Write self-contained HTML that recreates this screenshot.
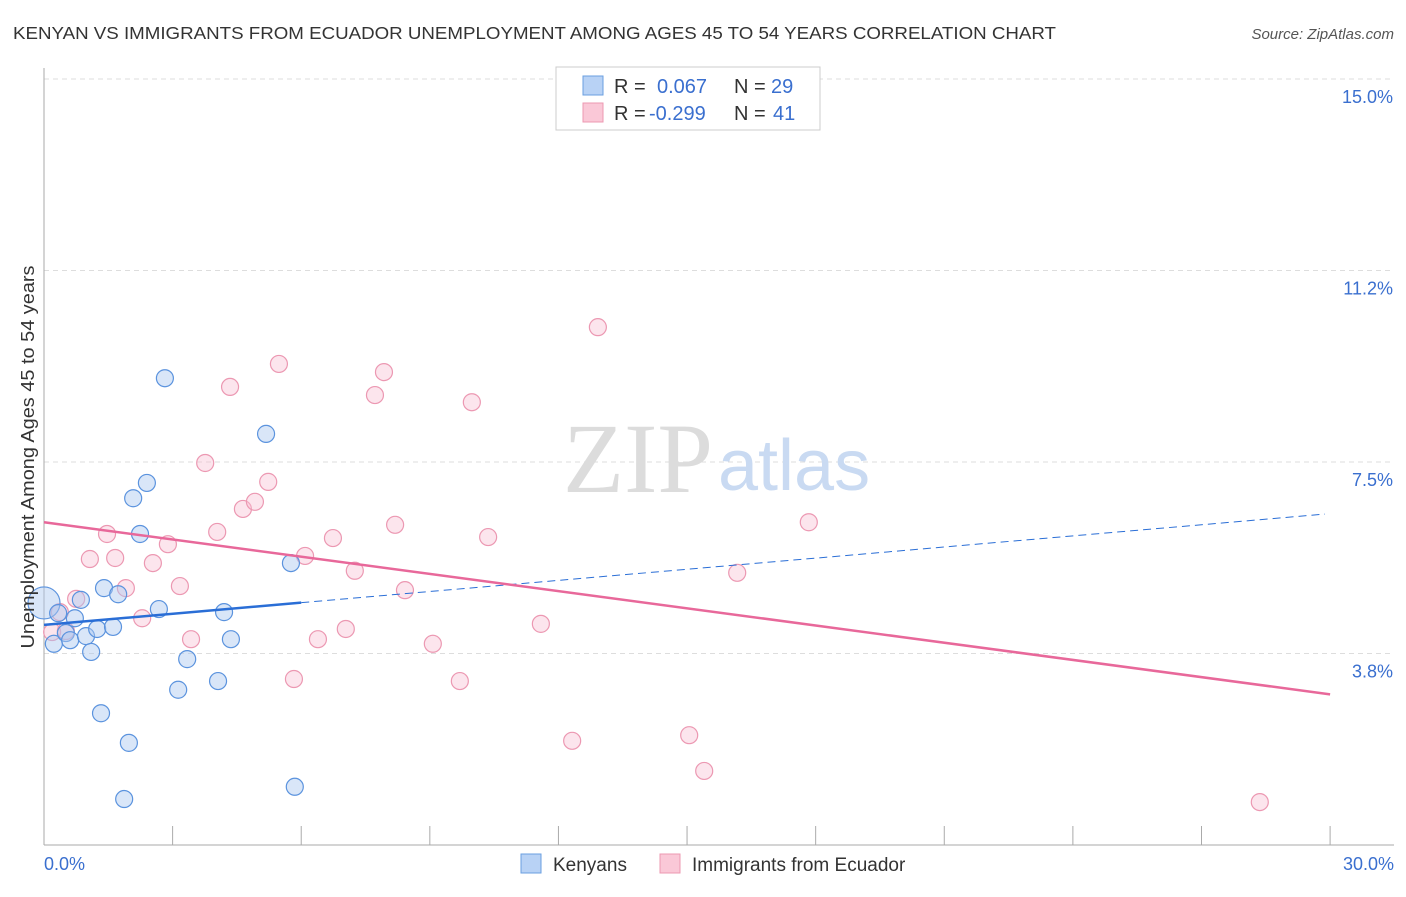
<!DOCTYPE html>
<html><head><meta charset="utf-8">
<style>
body{margin:0;background:#fff;font-family:"Liberation Sans",sans-serif;}
svg text{font-family:"Liberation Sans",sans-serif;}
</style></head>
<body>
<svg id="chart" width="1406" height="892" xmlns="http://www.w3.org/2000/svg">
<text x="13" y="39" font-size="17.5" fill="#333" textLength="1043" lengthAdjust="spacingAndGlyphs">KENYAN VS IMMIGRANTS FROM ECUADOR UNEMPLOYMENT AMONG AGES 45 TO 54 YEARS CORRELATION CHART</text>
<text x="1394" y="39" font-size="15" fill="#555" text-anchor="end" font-style="italic">Source: ZipAtlas.com</text>
<g id="grid"></g>
<text x="713" y="492" font-size="100" text-anchor="end" fill="#dcdcdc" font-family="Liberation Serif" style="font-family:'Liberation Serif',serif">ZIP</text>
<text x="718" y="490" font-size="72" fill="#c9daf2">atlas</text>
<g id="axes"></g>
<g id="points"></g>
<g id="lines"></g>
<g>
<rect x="556" y="67" width="264" height="63" fill="#fff" stroke="#ccc"/>
<rect x="583" y="76" width="20" height="19" fill="#b8d2f5" stroke="#6a9fe0"/>
<rect x="583" y="103" width="20" height="19" fill="#fac8d7" stroke="#ec98b2"/>
<text x="614" y="93" font-size="20" fill="#333">R = </text><text x="657" y="93" font-size="20" fill="#3a6fcf">0.067</text>
<text x="734" y="93" font-size="20" fill="#333">N = </text><text x="771" y="93" font-size="20" fill="#3a6fcf">29</text>
<text x="614" y="120" font-size="20" fill="#333">R = </text><text x="649" y="120" font-size="20" fill="#3a6fcf">-0.299</text>
<text x="734" y="120" font-size="20" fill="#333">N = </text><text x="773" y="120" font-size="20" fill="#3a6fcf">41</text>
</g>
<g>
<rect x="521" y="854" width="20" height="19" fill="#b8d2f5" stroke="#6a9fe0"/>
<text x="553" y="871" font-size="19" fill="#333">Kenyans</text>
<rect x="660" y="854" width="20" height="19" fill="#fac8d7" stroke="#ec98b2"/>
<text x="692" y="871" font-size="19" fill="#333">Immigrants from Ecuador</text>
</g>
<text transform="translate(34,457) rotate(-90)" font-size="18" fill="#333" text-anchor="middle" textLength="383" lengthAdjust="spacingAndGlyphs">Unemployment Among Ages 45 to 54 years</text>
</svg>
<script>
const kenX=[0,0.23,0.33,0.51,0.61,0.72,0.86,0.98,1.10,1.24,1.33,1.40,1.61,1.73,1.87,1.98,2.08,2.24,2.40,2.68,2.82,3.13,3.34,4.06,4.20,4.36,5.18,5.76,5.85];
const kenY=[4.74,3.94,4.54,4.15,4.01,4.44,4.80,4.09,3.78,4.23,2.58,5.03,4.27,4.91,0.90,2.00,6.79,6.09,7.09,4.62,9.14,3.04,3.64,3.21,4.56,4.03,8.05,5.52,1.14];
const ecuX=[0.19,0.37,0.51,0.75,1.07,1.47,1.66,1.91,2.29,2.54,2.89,3.17,3.43,3.76,4.04,4.34,4.64,4.92,5.23,5.48,5.83,6.09,6.39,6.74,7.04,7.25,7.72,7.93,8.19,8.42,9.07,9.70,9.98,10.36,11.59,12.32,12.92,15.05,15.40,16.17,17.84,28.36];
const ecuY=[4.17,4.56,4.19,4.82,5.60,6.09,5.62,5.03,4.44,5.52,5.89,5.07,4.03,7.48,6.13,8.97,6.58,6.72,7.11,9.42,3.25,5.66,4.03,6.01,4.23,5.37,8.81,9.26,6.27,4.99,3.94,3.21,8.67,6.03,4.33,2.04,10.14,2.15,1.45,5.33,6.32,0.84];
const yTicks=[3.75,7.5,11.25,15];
const yTickLabels=["3.8%","7.5%","11.2%","15.0%"];
const kenTrend=[4.31,6.48];
const ecuTrend=[6.32,2.95];
const NS="http://www.w3.org/2000/svg";
const X=v=>44+v*42.87, Y=v=>845-v*51.07;
function mk(parent,tag,attrs){const e=document.createElementNS(NS,tag);for(const k in attrs)e.setAttribute(k,attrs[k]);document.getElementById(parent).appendChild(e);return e;}
yTicks.forEach((t,i)=>{
 const l=mk('grid','line',{x1:44,x2:1394,y1:Y(t),y2:Y(t),stroke:'#ddd','stroke-dasharray':'5,4'});
 
 
 const tx=mk('axes','text',{x:1393,y:Y(t)+24,'font-size':18,fill:'#3a6fcf','text-anchor':'end'});tx.textContent=yTickLabels[i];
 
 
});
const ax=mk('axes','line',{x1:44,x2:44,y1:68,y2:845,stroke:'#aaa'});


const bx=mk('axes','line',{x1:44,x2:1394,y1:845,y2:845,stroke:'#aaa'});


for(let i=0;i<=10;i++){const t=mk('axes','line',{x1:X(i*3),x2:X(i*3),y1:826,y2:845,stroke:'#aaa'});
 
 }
[[0,"0.0%",44,'start'],[30,"30.0%",1394,'end']].forEach(a=>{const t=mk('axes','text',{x:a[2],y:870,'font-size':18,fill:'#3a6fcf','text-anchor':a[3]});t.textContent=a[1];
 
 });
ecuX.forEach((x,i)=>{const c=mk('points','circle',{cx:X(x),cy:Y(ecuY[i]),r:8.5,fill:'rgba(248,190,210,0.4)',stroke:'#ec98b2','stroke-width':1.2});
 
 });
kenX.forEach((x,i)=>{const c=mk('points','circle',{cx:X(x),cy:Y(kenY[i]),r:i===0?16:8.5,fill:'rgba(170,200,240,0.45)',stroke:'#5b93de','stroke-width':1.2});
 
 });
const kAt=x=>kenTrend[0]+(kenTrend[1]-kenTrend[0])*x/29.88;
let l1=mk('lines','line',{x1:X(0),y1:Y(kAt(0)),x2:X(6),y2:Y(kAt(6)),stroke:'#2a6ed6','stroke-width':2.5});


let l2=mk('lines','line',{x1:X(6),y1:Y(kAt(6)),x2:X(29.88),y2:Y(kenTrend[1]),stroke:'#2a6ed6','stroke-width':1,'stroke-dasharray':'8,5'});


let l3=mk('lines','line',{x1:X(0),y1:Y(ecuTrend[0]),x2:X(30),y2:Y(ecuTrend[1]),stroke:'#e8689a','stroke-width':2.5});


</script>
</body></html>
